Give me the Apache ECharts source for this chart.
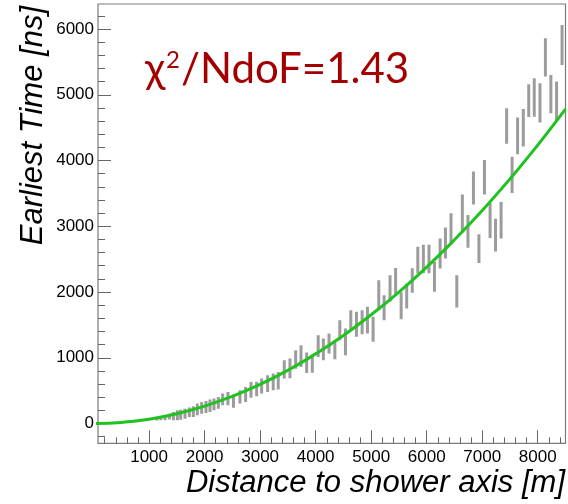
<!DOCTYPE html>
<html>
<head>
<meta charset="utf-8">
<script src="https://cdn.jsdelivr.net/npm/echarts@6/dist/echarts.min.js"></script>
<style>
  html, body { margin: 0; padding: 0; background: #ffffff; }
  #chart { width: 568px; height: 504px; }
</style>
</head>
<body>
<div id="chart"></div>
<script>
// Measured arrival times per station: distance [m], time [ns], half-length of error bar [ns]
const distance = [
  1140, 1210, 1288, 1366, 1438, 1509, 1569, 1647, 1725, 1797,
  1869, 1947, 2025, 2097, 2169, 2247, 2325, 2420, 2520, 2637,
  2739, 2835, 2937, 3027, 3135, 3236, 3326, 3435, 3537, 3640,
  3736, 3838, 3940, 4046, 4139, 4241, 4346, 4435, 4537, 4633,
  4735, 4837, 4933, 5035, 5137, 5233, 5340, 5440, 5540, 5640,
  5740, 5840, 5940, 6041, 6140, 6242, 6338, 6438, 6542, 6642,
  6743, 6842, 6941, 7040, 7142, 7240, 7340, 7440, 7538, 7637,
  7740, 7838, 7937, 8040, 8138, 8237, 8339, 8438
];
const earliestTime = [
  70, 76, 88, 106, 113, 126, 136, 151, 172, 182,
  215, 240, 253, 271, 291, 316, 367, 380, 342, 405,
  443, 514, 525, 570, 608, 633, 651, 824, 840, 975,
  1027, 925, 912, 1179, 1128, 1217, 1123, 1420, 1243, 1572,
  1509, 1542, 1572, 1433, 1953, 1760, 2054, 2170, 1790, 1940,
  2175, 2486, 2502, 2502, 2232, 2587, 2746, 2958, 2010, 3195,
  2923, 3582, 2660, 3745, 3088, 2866, 3092, 4525, 3782, 4375,
  4497, 4910, 4959, 4877, 5567, 5010, 4902, 5758
];
const timeError = [
  25, 25, 38, 45, 63, 76, 76, 76, 71, 81,
  89, 89, 91, 94, 89, 89, 89, 100, 100, 100,
  114, 120, 110, 114, 127, 127, 134, 140, 150, 140,
  165, 155, 140, 165, 165, 152, 145, 152, 203, 152,
  190, 183, 203, 190, 228, 190, 203, 195, 205, 190,
  185, 203, 216, 216, 228, 228, 235, 240, 245, 290,
  250, 250, 220, 262, 266, 250, 276, 270, 276, 279,
  285, 250, 292, 298, 291, 291, 300, 304
];

// Fitted arrival-time curve, sampled along the distance axis
const fitDistance = [0, 500, 1000, 1500, 2000, 2500, 3000, 3500, 4000, 4500, 5000, 5500, 6000, 6500, 7000, 7500, 8000, 8500];
const fitTime = [0, 17, 66, 150, 265, 415, 595, 810, 1060, 1340, 1655, 2000, 2380, 2795, 3240, 3720, 4235, 4780];

// Axis ranges and labelled tick values
const xRange = [80, 8500];
const yRange = [-300, 6380];
const xTickValues = [1000, 2000, 3000, 4000, 5000, 6000, 7000, 8000];
const yTickValues = [0, 1000, 2000, 3000, 4000, 5000, 6000];
const minorStep = 200;

function minorTicks(range, majors) {
  const out = [];
  const start = Math.ceil(range[0] / minorStep) * minorStep;
  for (let v = start; v <= range[1]; v += minorStep) {
    if (majors.indexOf(v) < 0) out.push(v);
  }
  return out;
}

const tickColor = '#666666';
const labelFont = 'Liberation Sans';
const plain = v => String(v);

const chart = echarts.init(document.getElementById('chart'), null, { renderer: 'canvas' });

const points = distance.map((d, i) => [d, earliestTime[i], timeError[i]]);
const fitLine = fitDistance.map((d, i) => [d, fitTime[i]]);

chart.setOption({
  animation: false,
  backgroundColor: '#ffffff',
  grid: {
    left: 98, right: 2.5, top: 4, bottom: 60.7,
    show: true, borderColor: '#7a7a7a', borderWidth: 1.2,
    containLabel: false
  },
  xAxis: [
    {
      type: 'value', position: 'bottom', min: xRange[0], max: xRange[1],
      splitLine: { show: false }, axisLine: { show: false, onZero: false },
      axisTick: { show: true, inside: true, length: 13, customValues: xTickValues,
        lineStyle: { color: tickColor, width: 1 } },
      axisLabel: { show: true, customValues: xTickValues, margin: 6, formatter: plain,
        color: '#000', fontFamily: labelFont, fontSize: 17 }
    },
    {
      type: 'value', position: 'bottom', min: xRange[0], max: xRange[1],
      splitLine: { show: false }, axisLine: { show: false, onZero: false },
      axisTick: { show: true, inside: true, length: 6, customValues: minorTicks(xRange, xTickValues),
        lineStyle: { color: tickColor, width: 1 } },
      axisLabel: { show: false }
    }
  ],
  yAxis: [
    {
      type: 'value', position: 'left', min: yRange[0], max: yRange[1],
      splitLine: { show: false }, axisLine: { show: false, onZero: false },
      axisTick: { show: true, inside: true, length: 13, customValues: yTickValues,
        lineStyle: { color: tickColor, width: 1 } },
      axisLabel: { show: true, customValues: yTickValues, margin: 4, formatter: plain,
        color: '#000', fontFamily: labelFont, fontSize: 17 }
    },
    {
      type: 'value', position: 'left', min: yRange[0], max: yRange[1],
      splitLine: { show: false }, axisLine: { show: false, onZero: false },
      axisTick: { show: true, inside: true, length: 7, customValues: minorTicks(yRange, yTickValues),
        lineStyle: { color: tickColor, width: 1 } },
      axisLabel: { show: false }
    }
  ],
  series: [
    {
      name: 'data',
      type: 'custom',
      xAxisIndex: 0, yAxisIndex: 0,
      clip: true,
      data: points,
      renderItem: function (params, api) {
        const x = api.value(0), y = api.value(1), e = api.value(2);
        const lo = api.coord([x, y - e]);
        const hi = api.coord([x, y + e]);
        return {
          type: 'line',
          shape: { x1: lo[0], y1: lo[1], x2: hi[0], y2: hi[1] },
          style: { stroke: '#9c9c9c', lineWidth: 3 }
        };
      },
      z: 2
    },
    {
      name: 'fit',
      type: 'line',
      xAxisIndex: 0, yAxisIndex: 0,
      data: fitLine,
      smooth: true,
      showSymbol: false,
      clip: true,
      lineStyle: { color: '#1fc21f', width: 3 },
      z: 3
    }
  ],
  graphic: [
    {
      type: 'text',
      x: 145, y: 48,
      style: {
        text: '{a|χ}{s|2}{a|/NdoF=1.43}',
        rich: {
          a: { fontFamily: 'Lato', fontSize: 42, fill: '#a50000', verticalAlign: 'top', lineHeight: 44 },
          s: { fontFamily: 'Lato', fontSize: 24, fill: '#a50000', verticalAlign: 'top', lineHeight: 44, padding: [0, 1, 0, 1] }
        }
      }
    },
    {
      type: 'text',
      x: 565, y: 483,
      style: {
        text: 'Distance to shower axis [m]',
        fontFamily: labelFont, fontStyle: 'italic', fontSize: 31,
        fill: '#000', align: 'right', verticalAlign: 'middle'
      }
    },
    {
      type: 'text',
      x: 33, y: 6,
      rotation: Math.PI / 2,
      style: {
        text: 'Earliest Time [ns]',
        fontFamily: labelFont, fontStyle: 'italic', fontSize: 31,
        fill: '#000', align: 'right', verticalAlign: 'middle'
      }
    }
  ]
});
</script>
</body>
</html>
